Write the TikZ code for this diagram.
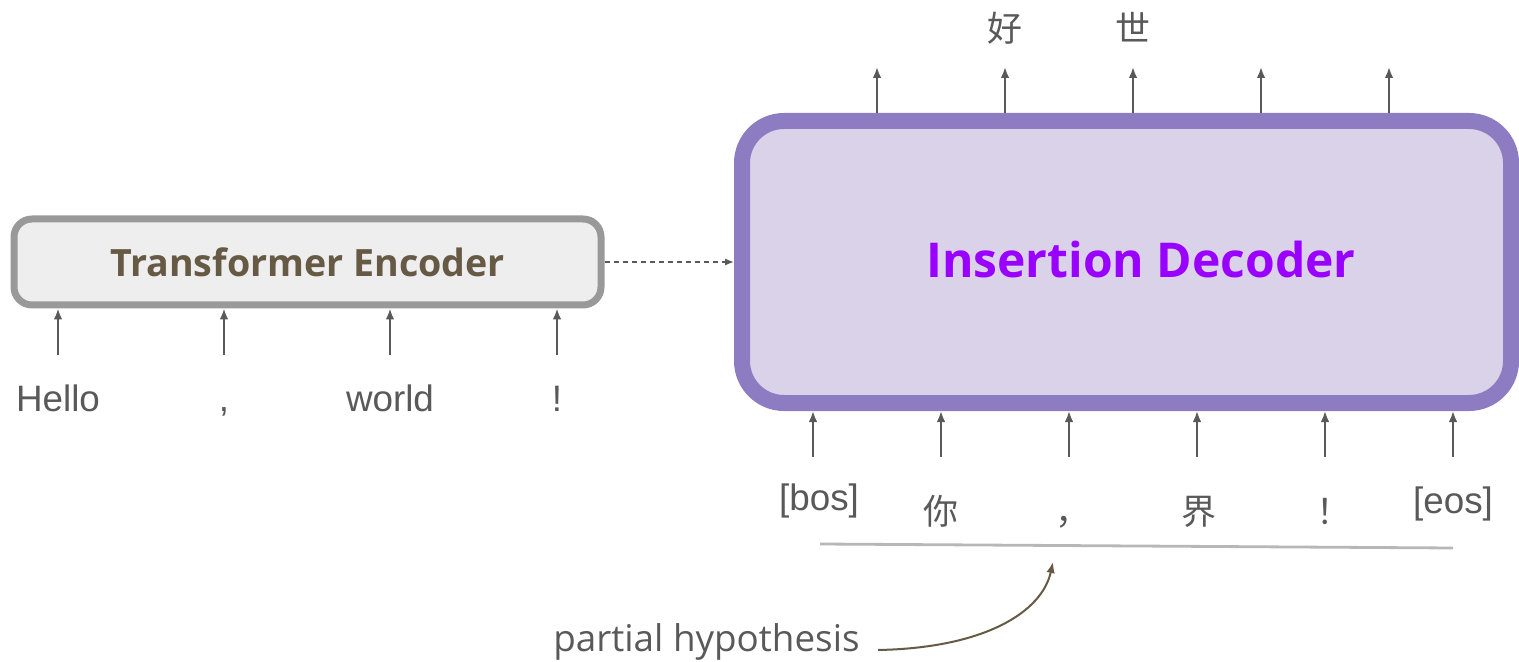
\documentclass[tikz,border=0pt]{standalone}
\usepackage{fontspec}
\setmainfont{Liberation Sans}
\newfontfamily\osans{Open Sans}
\newfontfamily\cjk{Noto Sans CJK SC}
\usetikzlibrary{arrows.meta}
\definecolor{txtgray}{HTML}{595959}
\definecolor{encborder}{HTML}{999999}
\definecolor{encfill}{HTML}{EEEEEE}
\definecolor{enctext}{HTML}{665A45}
\definecolor{decborder}{HTML}{8E7CC3}
\definecolor{decfill}{HTML}{D9D2E9}
\definecolor{dectext}{HTML}{9900FF}
\definecolor{hypgray}{HTML}{B7B7B7}
\definecolor{brownarr}{HTML}{665A45}
\tikzset{
  encbox/.style={draw=encborder, fill=encfill, line width=3.5pt, rounded corners=9pt,
    minimum width=293.5pt, minimum height=43pt, inner sep=0pt,
    font=\osans\bfseries\fontsize{18.8}{22}\selectfont, text=enctext},
  decbox/.style={draw=decborder, fill=decfill, line width=8pt, rounded corners=21pt,
    minimum width=384.5pt, minimum height=141pt, inner sep=0pt},
  dectxt/.style={font=\osans\bfseries\fontsize{24}{28}\selectfont, text=dectext, inner sep=0pt},
  toklabel/.style={font=\fontsize{18.4}{22}\selectfont, text=txtgray, inner sep=0pt, anchor=base},
  cjklabel/.style={font=\cjk\fontsize{17.5}{21}\selectfont, text=txtgray, inner sep=0pt, anchor=base},
  tokarrow/.style={draw=txtgray, line width=1pt, -{Latex[length=5.5pt,width=4.3pt]}},
  dasharrow/.style={draw=txtgray, line width=0.75pt, dash pattern=on 2.5pt off 2pt, -{Latex[length=4.5pt,width=3.6pt]}},
  hypline/.style={draw=hypgray, line width=1.4pt},
  phtext/.style={font=\osans\fontsize{18.4}{22}\selectfont, text=txtgray, inner sep=0pt, anchor=base west},
  brownarrow/.style={draw=brownarr, line width=1pt, -{Latex[length=5.5pt,width=4.3pt]}}
}
\begin{document}
\begin{tikzpicture}[x=0.5pt,y=-0.5pt]
\useasboundingbox (0,0) rectangle (1519,662);
% boxes
\node[encbox] (enc) at (307.5,262) {Transformer Encoder};
\node[decbox] (dec) at (1126.5,262) {};
\node[dectxt] (dect) at (1141,260) {Insertion Decoder};
\draw[dasharrow] (enc.east) -- (dec.west);
% encoder inputs
\node[toklabel] (e1) at (58,411) {Hello};
\node[toklabel] (e2) at (224,411) {,};
\node[toklabel] (e3) at (390,411) {world};
\node[toklabel] (e4) at (557,411) {!};
\foreach \x/\n in {58/1,224/2,390/3,557/4}{
  \coordinate (ei\n) at (\x,355);
  \draw[tokarrow] (ei\n) -- (ei\n |- enc.south);
}
% decoder inputs
\node[toklabel] (d1) at (819,510) {[bos]};
\node[cjklabel] (d2) at (941,524) {你};
\node[cjklabel] (d3) at (1073,524) {，};
\node[cjklabel] (d4) at (1199,524) {界};
\node[cjklabel] (d5) at (1334,524) {！};
\node[toklabel] (d6) at (1453,513) {[eos]};
\foreach \x/\n in {813/1,941/2,1069/3,1197/4,1325/5,1453/6}{
  \coordinate (di\n) at (\x,457);
  \draw[tokarrow] (di\n) -- (di\n |- dec.south);
}
% decoder outputs
\foreach \x/\n in {877/1,1005/2,1133/3,1261/4,1389/5}{
  \coordinate (do\n) at (\x,67);
  \draw[tokarrow] (do\n |- dec.north) -- (do\n);
}
\node[cjklabel] (o2) at (1005,42) {好};
\node[cjklabel] (o3) at (1133,42) {世};
% partial hypothesis
\coordinate (hs) at (820,544);
\coordinate (he) at (1453,548);
\draw[hypline] (hs) -- (he);
\node[phtext] (ph) at (553,651) {partial hypothesis};
\coordinate (ps) at (878,650);
\coordinate (pe) at (1053,562);
\draw[brownarrow] (ps) .. controls (985,648) and (1042,612) .. (pe);
\end{tikzpicture}
\end{document}
